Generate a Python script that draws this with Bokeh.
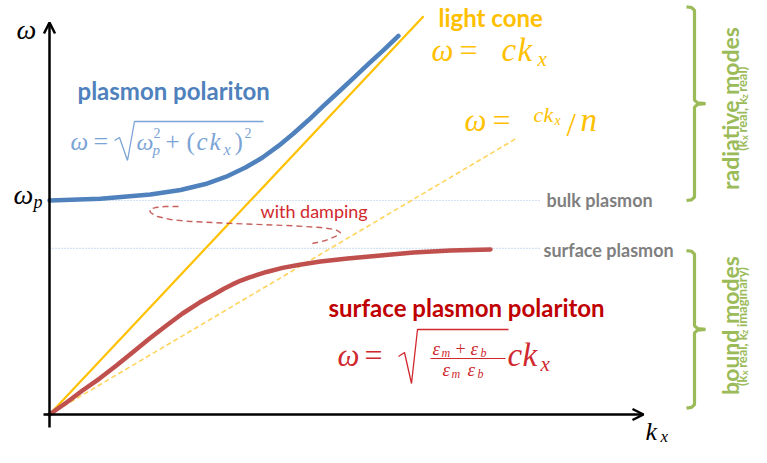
import math
from bokeh.plotting import figure
from bokeh.models import Range1d, ColumnDataSource, Arrow, OpenHead
from bokeh.embed import file_html
from bokeh.resources import INLINE

# ---------------- data (kx in units where c = 1, omega in units of omega_p) ----------------
omega_p = 1.0            # bulk plasmon frequency
omega_sp = 0.776         # surface plasmon frequency
guide_k_end = 2.443

light_k = [0.0, 1.861]           # omega = c kx
light_w = [0.0, 1.861]
medium_k = [0.0, 2.328]          # omega = c kx / n
medium_w = [0.0, 1.293]

pp_k = [0.000, 0.254, 0.502, 0.652, 0.776, 0.876, 0.975, 1.060, 1.139, 1.214,
        1.289, 1.363, 1.438, 1.512, 1.587, 1.662, 1.736]
pp_w = [1.000, 1.008, 1.028, 1.049, 1.077, 1.110, 1.154, 1.201, 1.255, 1.313,
        1.376, 1.442, 1.507, 1.572, 1.638, 1.703, 1.769]

spp_k = [0.000, 0.085, 0.164, 0.249, 0.333, 0.413, 0.498, 0.582, 0.662, 0.746,
         0.831, 0.870, 0.910, 0.952, 0.995, 1.080, 1.159, 1.244, 1.348, 1.483,
         1.647, 1.811, 1.995, 2.194]
spp_w = [0.000, 0.056, 0.112, 0.168, 0.229, 0.290, 0.355, 0.416, 0.472, 0.523,
         0.568, 0.589, 0.608, 0.626, 0.641, 0.666, 0.685, 0.700, 0.715, 0.729,
         0.743, 0.757, 0.766, 0.771]

damp_k = [0.642, 0.577, 0.527, 0.498, 0.502, 0.537, 0.602, 0.701, 0.900, 1.184,
          1.348, 1.423, 1.448, 1.423, 1.373, 1.308]
damp_w = [0.972, 0.972, 0.967, 0.958, 0.944, 0.925, 0.911, 0.902, 0.893, 0.883,
          0.874, 0.864, 0.850, 0.832, 0.813, 0.799]

radiative_range = [1.0, 1.905]
bound_range = [0.03, 0.766]

# ---------------- layout helpers (reference pixel -> data) ----------------
X0, Y0, SX, SY = 49.0, 414.0, 201.0, 214.0
def KX(px):
    return (px - X0) / SX
def W(py):
    return (Y0 - py) / SY
def PY(w):
    return Y0 - w * SY

BLUE = "#4F81BD"
BLUE_F = "#7BA3D6"
RED = "#C0504D"
RED_DARK = "#C00000"
RED_F = "#D0282E"
ORANGE = "#FFC000"
ORANGE_L = "#FFD45C"
GRAY = "#7F7F7F"
GREEN = "#9BBB59"
GUIDE = "#A8C6E8"
SERIF = "Liberation Serif"
SANS = "Lato"

p = figure(width=751, height=447, output_backend="svg", toolbar_location=None,
           x_range=Range1d(KX(0), KX(751)), y_range=Range1d(W(447), W(0)),
           x_axis_type=None, y_axis_type=None, min_border=0)
p.grid.visible = False
p.outline_line_color = None
p.background_fill_color = "white"

# guide lines
p.line([0, guide_k_end], [omega_p, omega_p], line_color=GUIDE, line_width=1.2, line_dash="1 2")
p.line([0, guide_k_end], [omega_sp, omega_sp], line_color=GUIDE, line_width=1.2, line_dash="1 2")

# light lines
p.line(medium_k, medium_w, line_color=ORANGE_L, line_width=1.6, line_dash="5 3")
p.line(light_k, light_w, line_color=ORANGE, line_width=2.2)

# damping
p.line(damp_k, damp_w, line_color=RED, line_width=1.4, line_dash="6 4", line_alpha=0.9)

# dispersion curves
p.line(pp_k, pp_w, line_color=BLUE, line_width=4.5, line_cap="round", line_join="round")
p.line(spp_k, spp_w, line_color=RED, line_width=4.5, line_cap="round", line_join="round")

# axes with arrows
p.add_layout(Arrow(end=OpenHead(size=11, line_width=2.5, line_color="black"),
                   x_start=0, y_start=W(427), x_end=0, y_end=W(22),
                   line_width=2.5, line_color="black"))
p.add_layout(Arrow(end=OpenHead(size=11, line_width=2.5, line_color="black"),
                   x_start=KX(43), y_start=0, x_end=KX(643), y_end=0,
                   line_width=2.5, line_color="black"))

# radicals / fraction bar
def pl(pts, color, lw=1.3):
    p.line([KX(a) for a, b in pts], [W(b) for a, b in pts], line_color=color, line_width=lw)
pl([(114, 140), (119, 137), (127, 160), (134, 121), (263, 121)], BLUE_F)
pl([(398, 356), (404, 352), (411, 383), (417, 329), (508, 329)], RED_F)
pl([(430, 358), (505, 358)], RED_F, 1.1)

# curly brackets built from the mode ranges
def bracket(w_top, w_bot, xv=694.0):
    yt, yb = PY(w_top), PY(w_bot)
    ym = (yt + yb) / 2
    pts = [(686, yt), (691, yt + 0.7), (xv, yt + 3.5), (xv, ym - 3.5), (xv + 3, ym - 0.8),
           (xv + 11, ym), (xv + 3, ym + 0.8), (xv, ym + 3.5), (xv, yb - 3.5), (691, yb - 0.7), (686, yb)]
    pl(pts, GREEN, 3.2)
bracket(radiative_range[1], radiative_range[0])
bracket(bound_range[1], bound_range[0])

# ---------------- texts ----------------
rows = dict(x=[], y=[], text=[], size=[], font=[], style=[], color=[], align=[], base=[], angle=[])
DESC = 0.27   # correction: glyphs are placed with their descent line on the anchor
def lab(px, py, text, size, color, font=SANS, style="normal", align="left", angle=0.0, base="alphabetic"):
    if base == "alphabetic":
        py = py - DESC * size
    rows["x"].append(KX(px)); rows["y"].append(W(py)); rows["text"].append(text)
    rows["size"].append(f"{size}px"); rows["font"].append(font); rows["style"].append(style)
    rows["color"].append(color); rows["align"].append(align); rows["base"].append(base)
    rows["angle"].append(angle)
def m(px, py, text, size, color, it=True):
    lab(px, py, text, size, color, font=SERIF, style="italic" if it else "normal")

# axis labels
m(16, 37, "ω", 28, "black")
m(13, 202, "ω", 28, "black")
m(33, 206, "p", 18, "black")
m(645, 438, "k", 26, "black")
m(660, 441, "x", 17, "black")

# headings
lab(77, 96, "plasmon polariton", 24, BLUE, style="bold")
lab(438, 23, "light cone", 24, ORANGE, style="bold")
lab(546, 204, "bulk plasmon", 18, GRAY, style="bold")
lab(543, 254, "surface plasmon", 18, GRAY, style="bold")
lab(260, 215, "with damping", 18, RED_F)
lab(328, 313, "surface plasmon polariton", 24, RED_DARK, style="bold")

# blue formula
m(70, 148, "ω", 25, BLUE_F); m(93, 148, "=", 26, BLUE_F, False)
m(136, 148, "ω", 24, BLUE_F); m(153, 136, "2", 14, BLUE_F, False); m(152, 154, "p", 15, BLUE_F)
m(165, 148, "+", 25, BLUE_F, False); m(186, 148, "(", 25, BLUE_F, False)
m(196, 148, "c", 25, BLUE_F); m(209, 148, "k", 25, BLUE_F); m(223, 153, "x", 16, BLUE_F)
m(234, 148, ")", 25, BLUE_F, False); m(244, 136, "2", 14, BLUE_F, False)

# orange formulas
m(431, 58, "ω", 31, ORANGE); m(459, 58, "=", 32, ORANGE, False)
m(501, 58, "c", 33, ORANGE); m(517, 58, "k", 33, ORANGE); m(537, 64, "x", 21, ORANGE)
m(464, 128, "ω", 31, ORANGE); m(492, 128, "=", 32, ORANGE, False)
m(533, 120, "c", 22, ORANGE); m(543, 120, "k", 22, ORANGE); m(554, 124, "x", 14, ORANGE)
m(566, 133, "/", 34, ORANGE, False); m(580, 128, "n", 33, ORANGE)

# red formula
m(337, 363, "ω", 31, RED_F); m(364, 363, "=", 32, RED_F, False)
m(432, 353, "ε", 19, RED_F); m(441, 356, "m", 12, RED_F); m(455, 353, "+", 18, RED_F, False)
m(470, 353, "ε", 19, RED_F); m(480, 356, "b", 12, RED_F)
m(442, 374, "ε", 19, RED_F); m(451, 377, "m", 12, RED_F)
m(467, 374, "ε", 19, RED_F); m(477, 377, "b", 12, RED_F)
m(507, 363, "c", 33, RED_F); m(522, 363, "k", 33, RED_F); m(540, 369, "x", 21, RED_F)

# rotated green labels (anchored at their middle line)
UP = math.pi / 2
lab(729, 108, "radiative modes", 23, GREEN, style="bold", align="center", angle=UP, base="middle")
lab(729, 325, "bound modes", 23, GREEN, style="bold", align="center", angle=UP, base="middle")

EMW = {"(": .30, ")": .30, "k": .53, "x": .52, " ": .20, "r": .39, "e": .52, "a": .50, "l": .25,
       ",": .22, "z": .45, "i": .25, "m": .86, "g": .50, "n": .57, "y": .51}
def width(t, sz):
    return sum(EMW.get(ch, .5) for ch in t) * sz
def sub_label(center_py, parts, size=13, bx=741):
    sub = size * 0.72
    total = sum(width(t, sub if s else size) for t, s in parts)
    y = center_py + total / 2
    for t, s in parts:
        sz = sub if s else size
        lead = len(t) - len(t.lstrip(" "))
        y -= width(" " * lead, sz)          # leading blanks become a gap (SVG drops them)
        lab(bx + (2.5 if s else 0), y, t.strip(" "), round(sz, 1), GREEN, style="bold",
            angle=UP, base="middle")
        y -= width(t.strip(" "), sz)
sub_label(108, [("(k", False), ("x", True), (" real, k", False), ("z", True), (" real)", False)])
sub_label(326, [("(k", False), ("x", True), (" real, k", False), ("z", True), (" imaginary)", False)])

src = ColumnDataSource(rows)
p.text(x="x", y="y", text="text", source=src, text_font_size="size", text_font="font",
       text_font_style="style", text_color="color", text_align="align",
       text_baseline="base", angle="angle")

open("out.html", "w").write(file_html(p, INLINE))
